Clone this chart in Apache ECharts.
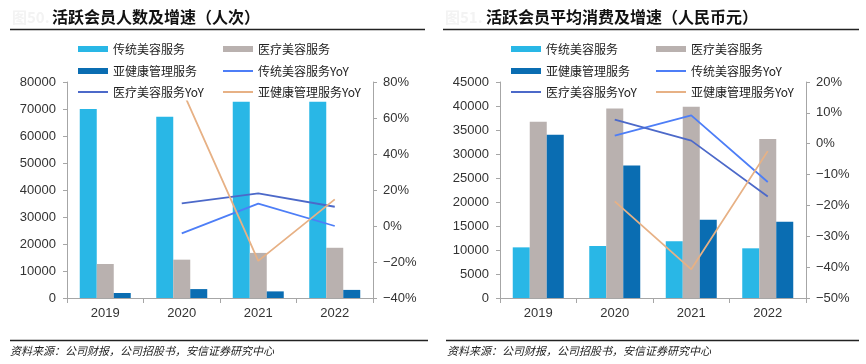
<!DOCTYPE html>
<html><head><meta charset="utf-8">
<script src="https://cdn.jsdelivr.net/npm/echarts@6/dist/echarts.min.js"></script>
<style>html,body{margin:0;padding:0;background:#fff}#c{width:866px;height:364px}</style>
</head><body><div id="c"></div>
<script>
const categories = ['2019', '2020', '2021', '2022'];
// Left chart: active members (人次)
const countTrad = [70000, 67100, 72700, 72700];
const countMed = [12600, 14200, 16700, 18600];
const countSub = [1850, 3300, 2450, 3000];
const countTradYoY = [null, -4.1, 12.4, 0.0];
const countMedYoY = [null, 12.6, 18.1, 10.7];
const countSubYoY = [null, 76, -19.4, 14.8];
// Right chart: average spend (人民币元)
const spendTrad = [10550, 10830, 11800, 10350];
const spendMed = [36700, 39500, 39850, 33100];
const spendSub = [34000, 27600, 16300, 15900];
const spendTradYoY = [null, 2.6, 9.2, -12.4];
const spendMedYoY = [null, 7.8, 1.0, -17.1];
const spendSubYoY = [null, -18.7, -40.7, -2.4];

const names = ['传统美容服务', '医疗美容服务', '亚健康管理服务', '传统美容服务YoY', '医疗美容服务YoY', '亚健康管理服务YoY'];
const colors = ['#29b7e6', '#b9b1af', '#0a6db2', '#4d7ef7', '#4c69c9', '#e7b185'];
const NUM = 'Liberation Sans, Arial, sans-serif';
const CJK = 'Noto Sans CJK SC, sans-serif';

function leg(i, x, y) {
  const isLine = i >= 3;
  return {
    data: [{ name: names[i], icon: 'rect' }], left: x, top: y - 7, padding: 0,
    itemWidth: 30, itemHeight: isLine ? 2 : 6, itemGap: 0, selectedMode: false,
    textStyle: { fontSize: 12, color: '#222', fontFamily: CJK }
  };
}
function legends(ox) {
  return [leg(0, ox + 78, 50), leg(1, ox + 223, 50), leg(2, ox + 78, 72), leg(3, ox + 223, 72), leg(4, ox + 78, 93), leg(5, ox + 223, 93)];
}
const pct = v => String(v).replace('-', '\u2212') + '%';
function yL(gi, max, interval) {
  return { type: 'value', gridIndex: gi, min: 0, max: max, interval: interval, position: 'left',
    axisLine: { show: true, lineStyle: { color: '#a6a6a6' } }, axisTick: { show: true, length: 4, lineStyle: { color: '#a6a6a6' } },
    splitLine: { show: false }, axisLabel: { color: '#333', fontSize: 13, fontFamily: NUM, margin: 11, formatter: v => String(v) } };
}
function yR(gi, min, max, interval) {
  return { type: 'value', gridIndex: gi, min: min, max: max, interval: interval, position: 'right',
    axisLine: { show: true, lineStyle: { color: '#a6a6a6' } }, axisTick: { show: true, length: 4, lineStyle: { color: '#a6a6a6' } },
    splitLine: { show: false }, axisLabel: { color: '#333', fontSize: 13, fontFamily: NUM, margin: 10, formatter: pct } };
}
function xA(gi) {
  return { type: 'category', gridIndex: gi, data: categories,
    axisLine: { lineStyle: { color: '#a6a6a6' } }, axisTick: { show: true, length: 5, lineStyle: { color: '#a6a6a6' } },
    axisLabel: { color: '#333', fontSize: 13, fontFamily: NUM, margin: 9 } };
}
function bar(i, gi, data) {
  return { name: names[i], type: 'bar', xAxisIndex: gi, yAxisIndex: gi * 2, data: data, barWidth: 17, barGap: '0%',
    itemStyle: { color: colors[i] }, z: 2, animation: false };
}
function line(i, gi, data) {
  return { name: names[i], type: 'line', xAxisIndex: gi, yAxisIndex: gi * 2 + 1, data: data, symbol: 'none',
    lineStyle: { color: colors[i], width: 1.8 }, itemStyle: { color: colors[i] }, z: 2, animation: false };
}

const chart = echarts.init(document.getElementById('c'), null, { renderer: 'canvas' });
chart.setOption({
  animation: false,
  color: colors,
  title: [
    { text: '活跃会员人数及增速（人次）', left: 52, top: 9, padding: 0, textStyle: { fontSize: 16, fontWeight: 'bold', color: '#111', fontFamily: CJK } },
    { text: '活跃会员平均消费及增速（人民币元）', left: 486, top: 9, padding: 0, textStyle: { fontSize: 16, fontWeight: 'bold', color: '#111', fontFamily: CJK } },
    { text: '资料来源：公司财报，公司招股书，安信证券研究中心', left: 10, top: 345, padding: 0, textStyle: { fontSize: 11, fontStyle: 'italic', fontWeight: 'normal', color: '#222', fontFamily: CJK } },
    { text: '资料来源：公司财报，公司招股书，安信证券研究中心', left: 447, top: 345, padding: 0, textStyle: { fontSize: 11, fontStyle: 'italic', fontWeight: 'normal', color: '#222', fontFamily: CJK } }
  ],
  legend: legends(0).concat(legends(433)),
  grid: [
    { left: 67, top: 82, width: 306, height: 216 },
    { left: 500, top: 82, width: 306, height: 216 }
  ],
  xAxis: [xA(0), xA(1)],
  yAxis: [yL(0, 80000, 10000), yR(0, -40, 80, 20), yL(1, 45000, 5000), yR(1, -50, 20, 10)],
  series: [
    bar(0, 0, countTrad), bar(1, 0, countMed), bar(2, 0, countSub),
    line(3, 0, countTradYoY), line(4, 0, countMedYoY), line(5, 0, countSubYoY),
    bar(0, 1, spendTrad), bar(1, 1, spendMed), bar(2, 1, spendSub),
    line(3, 1, spendTradYoY), line(4, 1, spendMedYoY), line(5, 1, spendSubYoY)
  ],
  graphic: [
    { type: 'rect', z: 3, shape: { x: 75, y: 40, width: 290, height: 60.5 }, style: { fill: '#fff' } },
    { type: 'text', z: 3, left: 12, top: 10, style: { text: '图50.', fill: '#f3f3f3', font: 'bold 15px ' + CJK } },
    { type: 'text', z: 3, left: 445, top: 10, style: { text: '图51.', fill: '#f3f3f3', font: 'bold 15px ' + CJK } },
    { type: 'line', shape: { x1: 10, y1: 29.5, x2: 425, y2: 29.5 }, style: { stroke: '#222', lineWidth: 1.3 } },
    { type: 'line', shape: { x1: 443, y1: 29.5, x2: 859, y2: 29.5 }, style: { stroke: '#222', lineWidth: 1.3 } },
    { type: 'line', shape: { x1: 10, y1: 340.5, x2: 428, y2: 340.5 }, style: { stroke: '#222', lineWidth: 1.3 } },
    { type: 'line', shape: { x1: 446, y1: 340.5, x2: 859, y2: 340.5 }, style: { stroke: '#222', lineWidth: 1.3 } }
  ]
});
</script></body></html>
